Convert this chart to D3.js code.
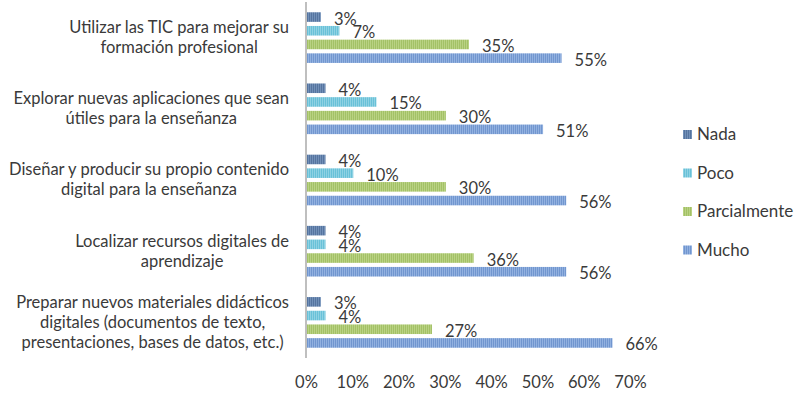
<!DOCTYPE html>
<html>
<head>
<meta charset="utf-8">
<script src="https://cdn.jsdelivr.net/npm/d3@7"></script>
<style>
  body { margin: 0; background: #fff; }
  text { font-family: Lato, "Open Sans", sans-serif; fill: #3a3a3a; }
</style>
</head>
<body>
<svg width="796" height="397"></svg>
<script>
var categories = [
  ["Utilizar las TIC para mejorar su", "formación profesional"],
  ["Explorar nuevas aplicaciones que sean", "útiles para la enseñanza"],
  ["Diseñar y producir su propio contenido", "digital para la enseñanza"],
  ["Localizar recursos digitales de", "aprendizaje"],
  ["Preparar nuevos materiales didácticos", "digitales (documentos de texto,", "presentaciones, bases de datos, etc.)"]
];
var seriesNames = ["Nada", "Poco", "Parcialmente", "Mucho"];
var nada = [3, 4, 4, 4, 3];
var poco = [7, 15, 10, 4, 4];
var parcialmente = [35, 30, 30, 36, 27];
var mucho = [55, 51, 56, 56, 66];
var xTicks = [0, 10, 20, 30, 40, 50, 60, 70];

var series = [nada, poco, parcialmente, mucho];
var colors = ["#55749f", "#69c1d8", "#a3c166", "#7196cf"];
var stripes = ["#7290b8", "#8fd2e3", "#b9d283", "#92b1e0"];

var svg = d3.select("svg"),
    margin = {top: 2, left: 306, bottom: 39},
    height = +svg.attr("height") - margin.top - margin.bottom;

var x = d3.scaleLinear().domain([0, 70]).range([0, 324]);
var y0 = d3.scaleBand().domain(d3.range(categories.length)).range([0, height]);
var y1 = d3.scaleBand().domain(d3.range(seriesNames.length))
    .range([0, y0.bandwidth()]).paddingInner(0.3).paddingOuter(0.75);

// striped fills
var defs = svg.append("defs");
colors.forEach(function(c, i) {
  var p = defs.append("pattern")
      .attr("id", "pat" + i)
      .attr("patternUnits", "userSpaceOnUse")
      .attr("width", 2).attr("height", 10);
  p.append("rect").attr("width", 2).attr("height", 10).attr("fill", c);
  p.append("rect").attr("width", 1).attr("height", 10).attr("fill", stripes[i]);
});

var g = svg.append("g")
    .attr("transform", "translate(" + margin.left + "," + margin.top + ")");

var groups = g.selectAll(".grp")
    .data(categories)
  .enter().append("g")
    .attr("class", "grp")
    .attr("transform", function(d, i) { return "translate(0," + y0(i) + ")"; });

groups.each(function(cat, ci) {
  var gg = d3.select(this);
  series.forEach(function(vals, si) {
    gg.append("rect")
        .attr("x", 1)
        .attr("y", y1(si))
        .attr("width", x(vals[ci]))
        .attr("height", y1.bandwidth())
        .attr("fill", "url(#pat" + si + ")");
    gg.append("text")
        .attr("x", x(vals[ci]) + 14)
        .attr("y", y1(si) + y1.bandwidth() / 2 + 7.5)
        .attr("font-size", 16.5)
        .text(vals[ci] + "%");
  });

  // category label, lines centred inside a right-aligned block
  var lab = gg.append("text")
      .attr("font-size", 16.5)
      .attr("text-anchor", "middle");
  var n = cat.length;
  cat.forEach(function(line, li) {
    lab.append("tspan")
        .attr("x", 0)
        .attr("y", y0.bandwidth() / 2 + (li - (n - 1) / 2) * 20 + 5.5)
        .text(line);
  });
  var w = d3.max(lab.selectAll("tspan").nodes(), function(t) { return t.getComputedTextLength(); });
  lab.selectAll("tspan").attr("x", -17 - w / 2);
});

// vertical axis line
g.append("line")
    .attr("x1", 0).attr("x2", 0)
    .attr("y1", 0).attr("y2", height)
    .attr("stroke", "#bfbfbf")
    .attr("stroke-width", 2);

// x axis
var xAxis = g.append("g")
    .attr("transform", "translate(0," + height + ")")
    .call(d3.axisBottom(x).tickValues(xTicks).tickSize(0).tickPadding(18)
      .tickFormat(function(d) { return d + "%"; }));
xAxis.select(".domain").remove();
xAxis.selectAll("text")
    .attr("font-size", 16.5)
    .style("font-family", "Lato, 'Open Sans', sans-serif")
    .attr("fill", "#3a3a3a");

// legend
var legend = svg.append("g")
    .attr("transform", "translate(683,134)")
  .selectAll("g")
    .data(seriesNames)
  .enter().append("g")
    .attr("transform", function(d, i) { return "translate(0," + i * 38.5 + ")"; });

legend.append("rect")
    .attr("x", 0).attr("y", -4)
    .attr("width", 9).attr("height", 9)
    .attr("fill", function(d, i) { return "url(#pat" + i + ")"; });

legend.append("text")
    .attr("x", 14)
    .attr("y", 6)
    .attr("font-size", 17)
    .text(function(d) { return d; });
</script>
</body>
</html>
